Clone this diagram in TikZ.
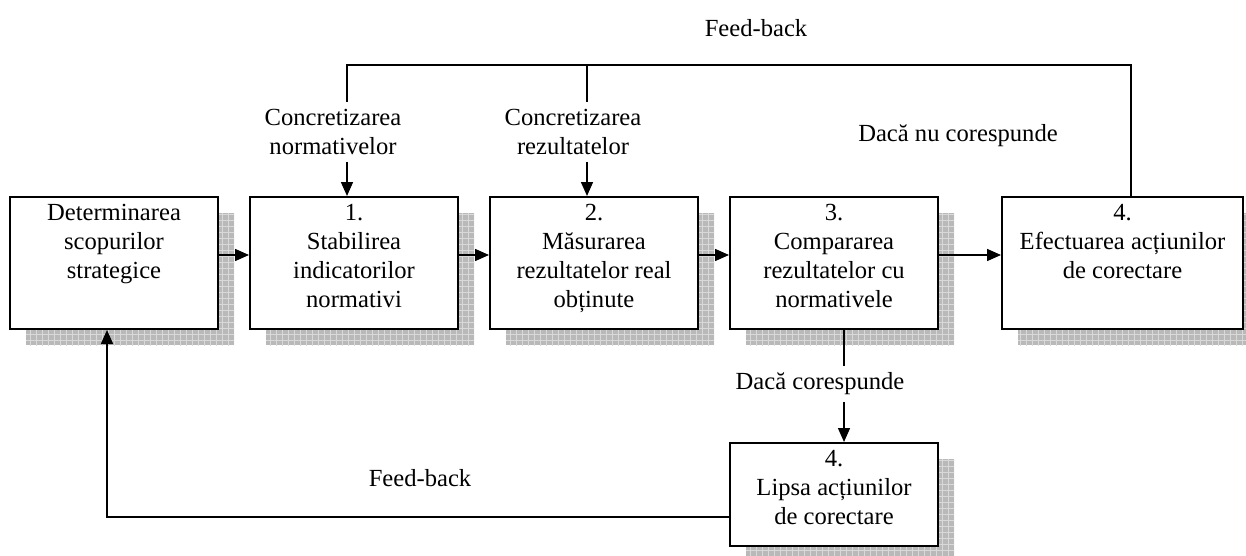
\documentclass[tikz,border=0pt]{standalone}
\usepackage{fontspec}
\setmainfont{Liberation Serif}
\usetikzlibrary{arrows.meta,patterns}

\begin{document}
\begin{tikzpicture}[x=0.5pt,y=-0.5pt,
		font=\fontsize{12.3}{14.5}\selectfont,
		blk/.style={draw,line width=1pt,fill=white,minimum width=104pt,minimum height=66pt,inner sep=0pt},
		txt/.style={align=center,inner sep=0pt,anchor=north},
		umbra/.style={fill=gray!55,postaction={pattern=grid,pattern color=gray!30}},
		arr/.style={line width=0.75pt,-{Triangle[length=7pt,width=6pt]}},
		ln/.style={line width=0.75pt}]
		\useasboundingbox (0,0) rectangle (1246,556);
		% umbrele
		\foreach \x in {114,354,594,834}
			\fill[umbra] (\x-88,213) rectangle (\x+120,345);
		\fill[umbra] (1018,213) rectangle (1246,345);
		\fill[umbra] (746,459) rectangle (954,556);
		% blocurile
		\node[blk] (b0) at (114,263) {};
		\node[blk] (b1) at (354,263) {};
		\node[blk] (b2) at (594,263) {};
		\node[blk] (b3) at (834,263) {};
		\node[blk,minimum width=120.5pt] (b4) at (1122.5,263) {};
		\node[blk,minimum height=51.5pt] (b5) at (834,494.5) {};
		\node[txt] (t0) at ([yshift=-4pt]b0.north) {Determinarea\\scopurilor\\strategice};
		\node[txt] (t1) at ([yshift=-4pt]b1.north) {1.\\Stabilirea\\indicatorilor\\normativi};
		\node[txt] (t2) at ([yshift=-4pt]b2.north) {2.\\Măsurarea\\rezultatelor real\\obținute};
		\node[txt] (t3) at ([yshift=-4pt]b3.north) {3.\\Compararea\\rezultatelor cu\\normativele};
		\node[txt] (t4) at ([yshift=-4pt]b4.north) {4.\\Efectuarea acțiunilor\\de corectare};
		\node[txt] (t5) at ([yshift=-4pt]b5.north) {4.\\Lipsa acțiunilor\\de corectare};
		% etichete
		\node[align=center] (c1) at (333,132) {Concretizarea\\normativelor};
		\node[align=center] (c2) at (573,132) {Concretizarea\\rezultatelor};
		\node (fb) at (756,28) {Feed-back};
		\node (dnc) at (958,136) {Dacă nu corespunde};
		\node (dc) at (820,384) {Dacă corespunde};
		\node (fbj) at (420,478) {Feed-back};
		\coordinate (k1) at (347,65);
		\coordinate (k2) at (587,65);
		\coordinate (k3) at (1131,65);
		\coordinate (k4) at (844,0);
		\coordinate (k5) at (107,517);
		% sageti
		\foreach \i/\j in {b0/b1,b1/b2,b2/b3,b3/b4}
			\draw[arr] ([yshift=4pt]\i.east) -- ([yshift=4pt]\j.west);
		\draw[ln] (k3 |- b4.north) -- (k3) -- (k1) -- (k1 |- c1.north);
		\draw[ln] (k2) -- (k2 |- c2.north);
		\draw[arr] (k1 |- c1.south) -- (k1 |- b1.north);
		\draw[arr] (k2 |- c2.south) -- (k2 |- b2.north);
		\draw[ln] (k4 |- b3.south) -- (k4 |- dc.north);
		\draw[arr] (k4 |- dc.south) -- (k4 |- b5.north);
		\draw[arr] (b5.west |- k5) -- (k5) -- (k5 |- b0.south);
\end{tikzpicture}
\end{document}
